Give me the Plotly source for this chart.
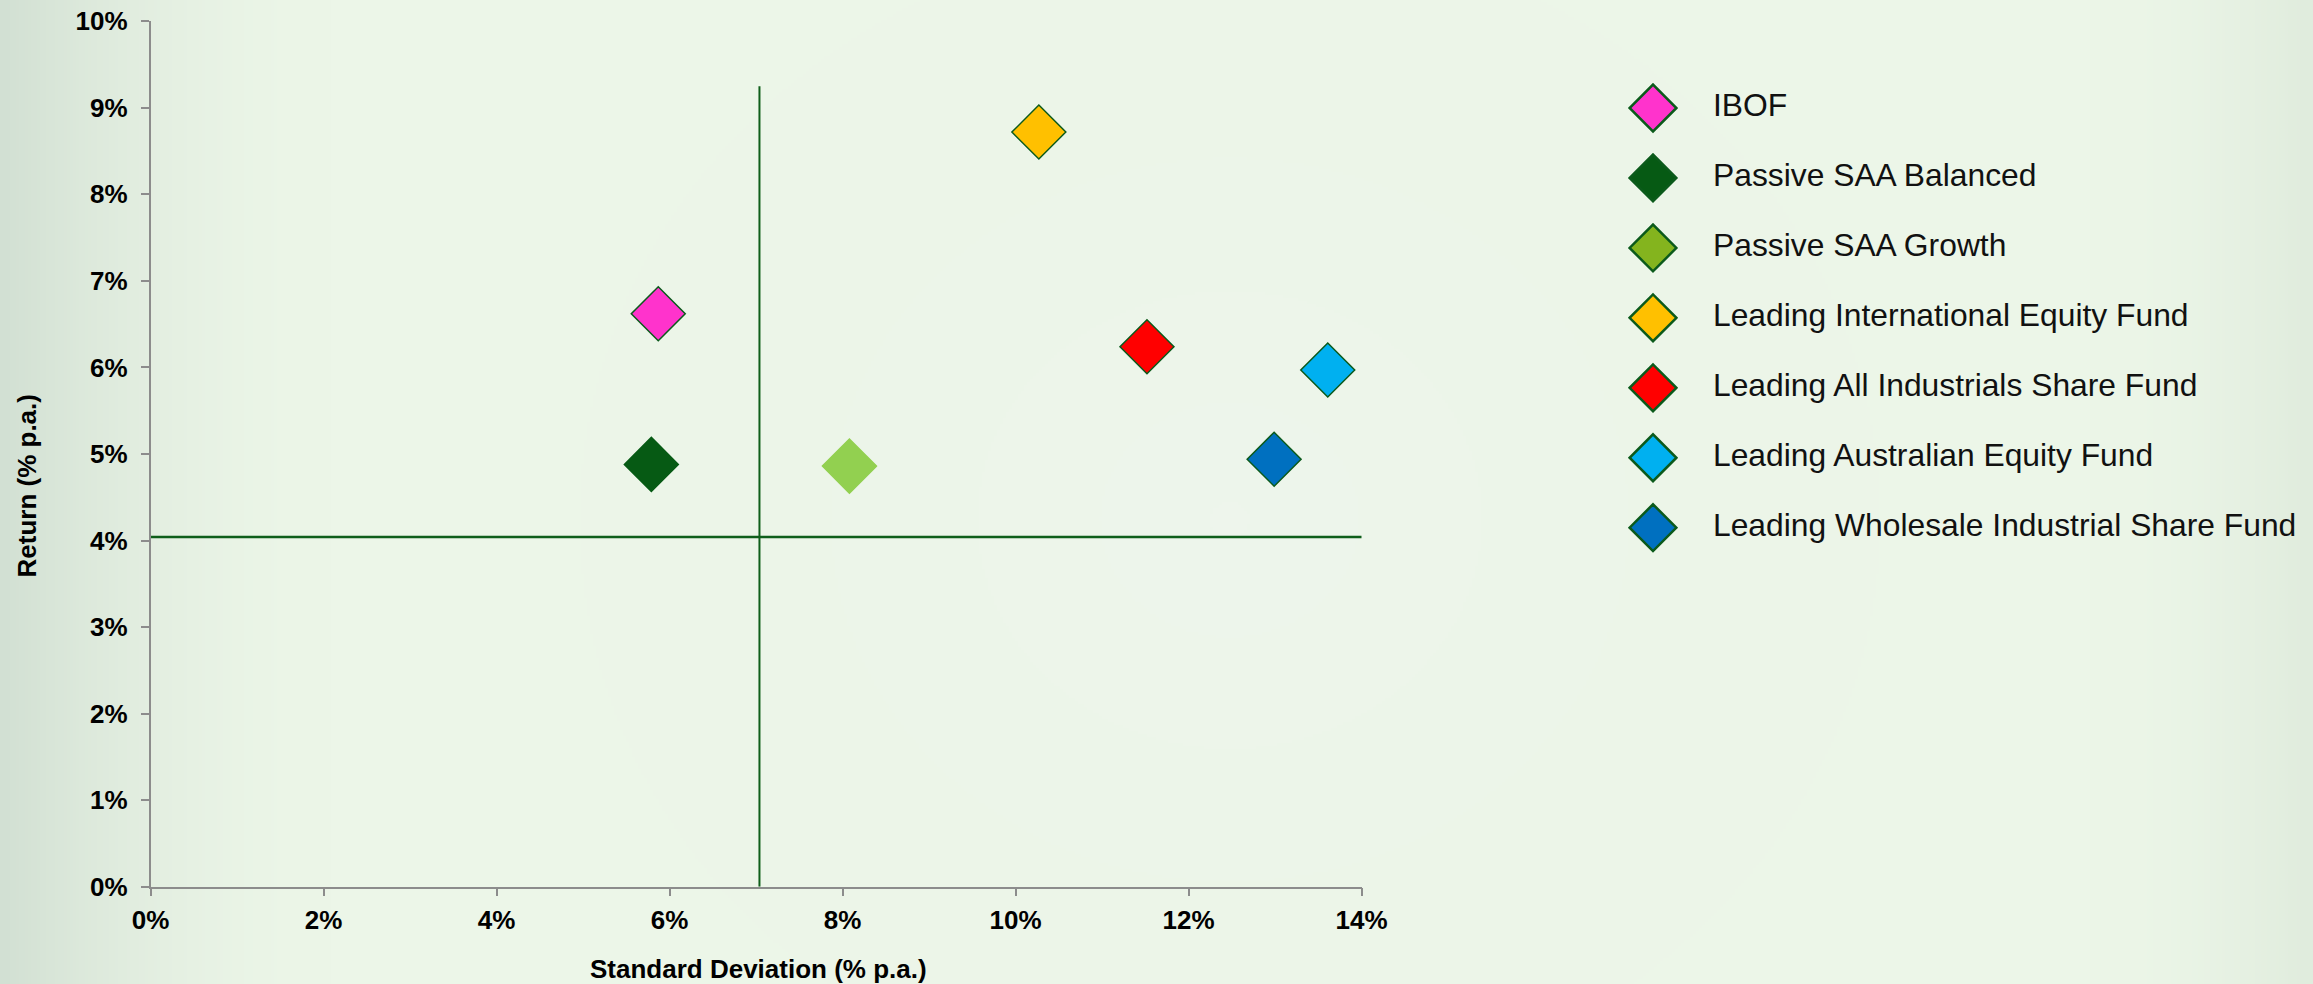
import base64
import struct
import zlib

import numpy as np
import plotly.graph_objects as go

W, H = 2313, 984

# ---- data -------------------------------------------------------------
funds = [
    "IBOF",
    "Passive SAA Balanced",
    "Passive SAA Growth",
    "Leading International Equity Fund",
    "Leading All Industrials Share Fund",
    "Leading Australian Equity Fund",
    "Leading Wholesale Industrial Share Fund",
]
std_dev = [5.87, 5.79, 8.08, 10.27, 11.52, 13.61, 12.99]   # % p.a.
returns = [6.62, 4.88, 4.86, 8.72, 6.24, 5.97, 4.94]       # % p.a.

point_colors = ["#FF33CC", "#065A14", "#92D050", "#FFC000", "#FF0000", "#00B0F0", "#0070C0"]
key_colors = ["#FF33CC", "#065A14", "#84B41E", "#FFC000", "#FF0000", "#00B0F0", "#0070C0"]
point_outlines = ["#0B5A1B", "#065A14", "#92D050", "#0B5A1B", "#0B5A1B", "#0B5A1B", "#0B5A1B"]

# reference lines
return_line_x = [0, 14.05]
return_line_y = [4.04, 4.04]
risk_line_x = [7.04, 7.04]
risk_line_y = [0, 9.25]

x_ticks = [0, 2, 4, 6, 8, 10, 12, 14]
y_ticks = list(range(0, 11))
x_tick_labels = [f"{v}%" for v in x_ticks]
y_tick_labels = [f"{v}%" for v in y_ticks]

# ---- background wash ----------------------------------------------------
def png_uri(rgb):
    h, w, _ = rgb.shape
    raw = b"".join(b"\x00" + rgb[r].tobytes() for r in range(h))

    def chunk(tag, data):
        body = tag + data
        return struct.pack(">I", len(data)) + body + struct.pack(">I", zlib.crc32(body) & 0xFFFFFFFF)

    png = (b"\x89PNG\r\n\x1a\n"
           + chunk(b"IHDR", struct.pack(">IIBBBBB", w, h, 8, 2, 0, 0, 0))
           + chunk(b"IDAT", zlib.compress(raw, 9))
           + chunk(b"IEND", b""))
    return "data:image/png;base64," + base64.b64encode(png).decode()


sw, sh = W // 3, H // 3
gx = np.linspace(0, W, sw)[None, :]
gy = np.linspace(0, H, sh)[:, None]
base = np.array([236, 246, 232], float)
left_tone = np.array([210, 224, 211], float)
right_tone = np.array([224, 236, 221], float)
centre_tone = np.array([239, 245, 238], float)

img = np.ones((sh, sw, 3)) * base
t_left = np.clip(1 - gx / 330.0, 0, 1) ** 1.8
t_right = np.clip(1 - (W - gx) / 220.0, 0, 1) ** 1.8
r = np.sqrt((gx - 1230) ** 2 + ((gy - 520) * 1.1) ** 2)
t_c = np.clip(1 - r / 650.0, 0, 1) ** 1.5 * np.ones_like(gy)
img = img * (1 - 0.7 * t_c[..., None]) + centre_tone * 0.7 * t_c[..., None]
tl = (t_left * np.ones_like(gy))[..., None]
tr = (t_right * np.ones_like(gy))[..., None]
img = img * (1 - tl) + left_tone * tl
img = img * (1 - tr) + right_tone * tr
bg_uri = png_uri(np.clip(img, 0, 255).astype(np.uint8))

# ---- figure -----------------------------------------------------------
FONT = "Liberation Sans, Arial, sans-serif"
x0, x1 = 150.5, 1361.5
y_top, y_bot = 21.3, 886.7

fig = go.Figure()

fig.add_trace(go.Scatter(x=return_line_x, y=return_line_y, mode="lines",
                         line=dict(color="#0E5E1A", width=2.5), hoverinfo="skip",
                         showlegend=False, cliponaxis=False))
fig.add_trace(go.Scatter(x=risk_line_x, y=risk_line_y, mode="lines",
                         line=dict(color="#0E5E1A", width=2), hoverinfo="skip",
                         showlegend=False, cliponaxis=False))

for name, sx, ry, fc, oc in zip(funds, std_dev, returns, point_colors, point_outlines):
    fig.add_trace(go.Scatter(
        x=[sx], y=[ry], mode="markers", name=name, showlegend=False,
        marker=dict(symbol="diamond", size=41.5, color=fc,
                    line=dict(color=oc, width=1.5)),
        cliponaxis=False,
    ))

# key on its own pixel-scaled axes at the right
key_x = 1653
key_text_x = 1713
key_y0, key_step = 108, 69.95
key_rows = [key_y0 + i * key_step for i in range(len(funds))]
fig.add_trace(go.Scatter(
    x=[key_x] * len(funds), y=key_rows, mode="markers",
    marker=dict(symbol="diamond", size=36, color=key_colors,
                line=dict(color="#0B5A1B", width=2.5)),
    xaxis="x2", yaxis="y2", hoverinfo="skip", showlegend=False, cliponaxis=False,
))
fig.add_trace(go.Scatter(
    x=[key_text_x] * len(funds), y=key_rows, mode="text", text=funds,
    textposition="middle right",
    textfont=dict(family=FONT, size=31.8, color="#111111"),
    xaxis="x2", yaxis="y2", hoverinfo="skip", showlegend=False, cliponaxis=False,
))

axis_common = dict(
    showgrid=False, zeroline=False, showline=True, linecolor="#8C8C8C", linewidth=1.5,
    ticks="outside", ticklen=8, tickwidth=1.5, tickcolor="#8C8C8C",
    tickfont=dict(family=FONT, size=26, color="#000000", weight="bold"),
    tickmode="array", fixedrange=True, automargin=False,
)

fig.update_layout(
    width=W, height=H,
    margin=dict(l=0, r=0, t=0, b=0, pad=0),
    paper_bgcolor="#ECF6E8",
    plot_bgcolor="rgba(0,0,0,0)",
    showlegend=False,
    xaxis=dict(axis_common, domain=[x0 / W, x1 / W], range=[0, 14],
               tickvals=x_ticks, ticktext=x_tick_labels, ticklabelstandoff=1),
    yaxis=dict(axis_common, domain=[1 - y_bot / H, 1 - y_top / H], range=[0, 10],
               tickvals=y_ticks, ticktext=y_tick_labels, ticklabelstandoff=8),
    xaxis2=dict(domain=[1600 / W, 1.0], range=[1600, W], visible=False,
                fixedrange=True, automargin=False),
    yaxis2=dict(domain=[0, 1], range=[H, 0], visible=False, fixedrange=True,
                anchor="x2", automargin=False),
    images=[dict(source=bg_uri, xref="paper", yref="paper", x=0, y=1,
                 sizex=1, sizey=1, sizing="stretch", xanchor="left", yanchor="top",
                 layer="below")],
    annotations=[
        dict(text="<b>Standard Deviation (% p.a.)</b>", xref="paper", yref="paper",
             x=758 / W, y=1 - 969 / H, showarrow=False, xanchor="center", yanchor="middle",
             font=dict(family=FONT, size=26, color="#000000")),
        dict(text="<b>Return (% p.a.)</b>", xref="paper", yref="paper",
             x=26 / W, y=1 - 486.5 / H, showarrow=False, textangle=-90,
             xanchor="center", yanchor="middle",
             font=dict(family=FONT, size=26, color="#000000")),
    ],
)

# page chrome: no body margin, so the chart sits flush in the window
fig.write_html(
    "out.html",
    post_script="document.body.style.margin='0';document.body.style.overflow='hidden';",
)
